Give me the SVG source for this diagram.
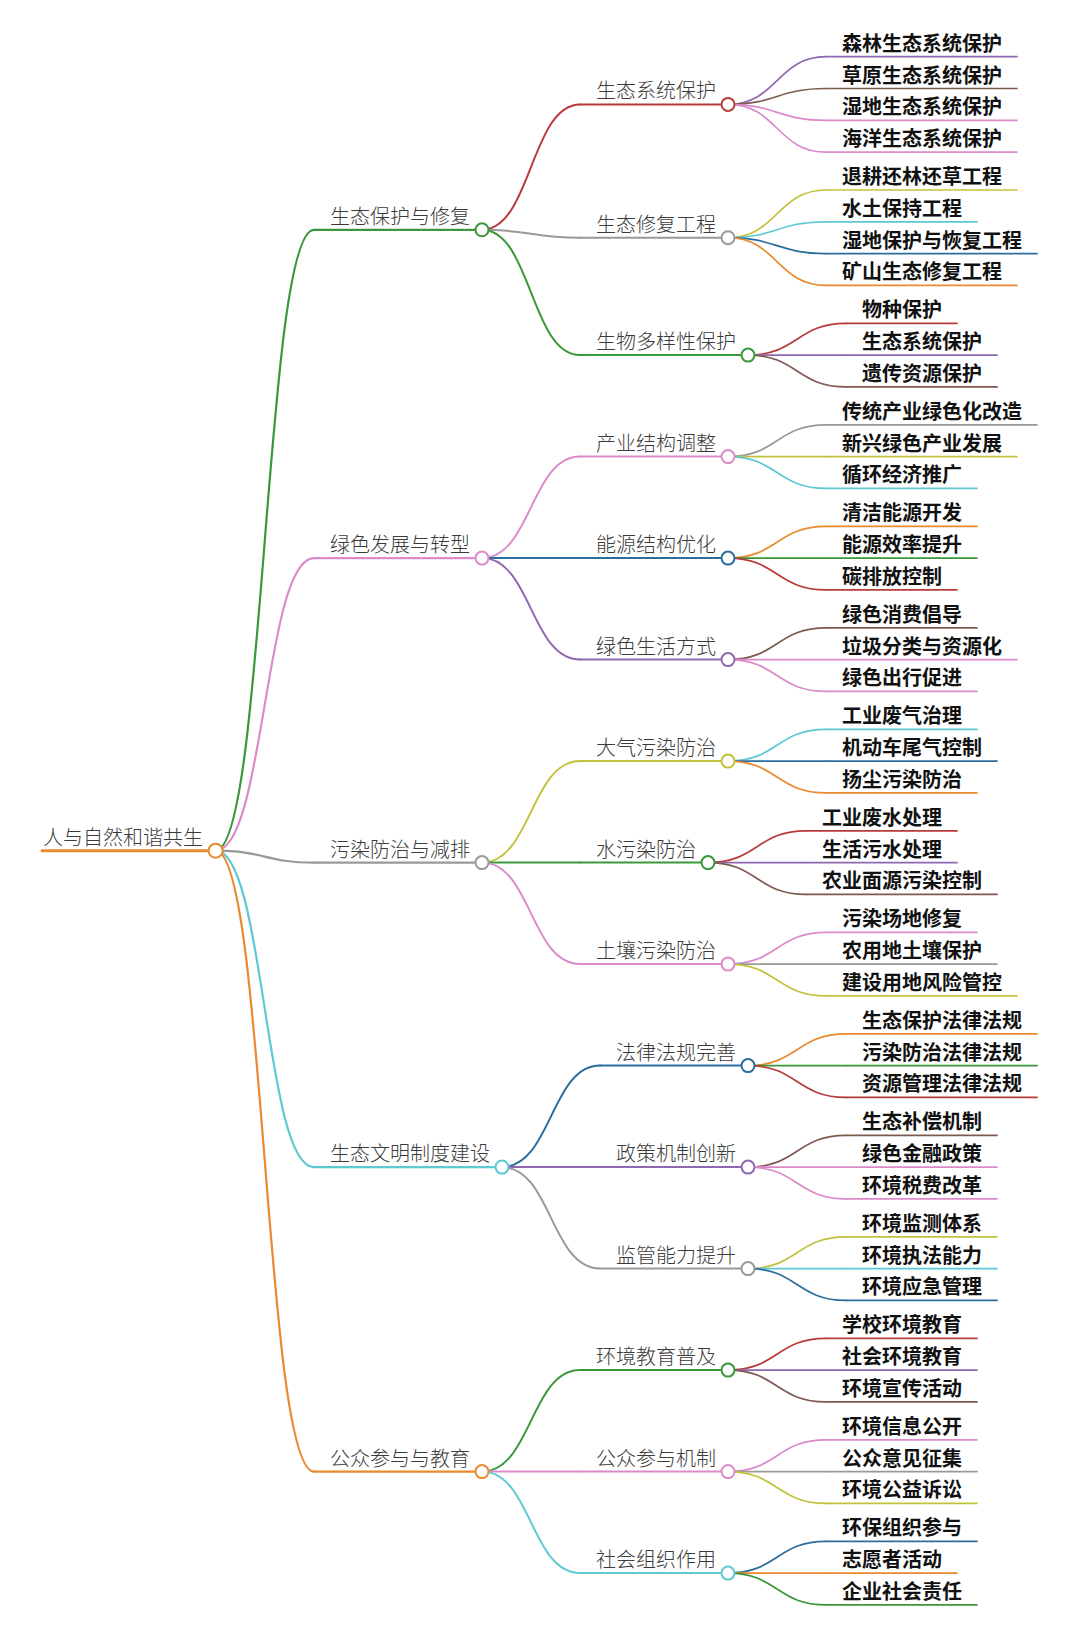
<svg xmlns="http://www.w3.org/2000/svg" width="1080" height="1650" viewBox="0 0 1080 1650">
<style>
text{font-family:"Noto Sans CJK SC","Noto Sans",sans-serif;font-size:20px}
.t{fill:#3a3a3a;font-weight:300}
.lf text{fill:#111;font-weight:700}
path{fill:none;stroke-linecap:round}
circle{fill:#fff;stroke-width:2}
.l0 path{stroke-width:3}
.l1 path,.k1{stroke-width:2.2}
.l2 path,.k2{stroke-width:2}
.lf path,.k3{stroke-width:1.7}
.b{stroke:#2b6e9e}.o{stroke:#e98a2e}.g{stroke:#3a973b}.r{stroke:#b83b3b}.p{stroke:#8f68b2}.br{stroke:#7d5a50}.pk{stroke:#db8bc9}.gy{stroke:#999}.ol{stroke:#c3c23c}.cy{stroke:#5ec8d3}
</style>
<rect width="1080" height="1650" fill="#fff"/>
<g id="connectors">
<path class="k1 g" d="M215.6 850.7C264.8 850.7 264.8 229.8 314 229.8"/>
<path class="k1 pk" d="M215.6 850.7C264.8 850.7 264.8 558.1 314 558.1"/>
<path class="k1 gy" d="M215.6 850.7C264.8 850.7 264.8 862.6 314 862.6"/>
<path class="k1 cy" d="M215.6 850.7C264.8 850.7 264.8 1167.1 314 1167.1"/>
<path class="k1 o" d="M215.6 850.7C264.8 850.7 264.8 1471.6 314 1471.6"/>
<path class="k2 r" d="M482 229.8C531 229.8 531 104.4 580 104.4"/>
<path class="k2 gy" d="M482 229.8C531 229.8 531 237.7 580 237.7"/>
<path class="k2 g" d="M482 229.8C531 229.8 531 355.1 580 355.1"/>
<path class="k2 pk" d="M482 558.1C531 558.1 531 456.6 580 456.6"/>
<path class="k2 b" d="M482 558.1C531 558.1 531 558.1 580 558.1"/>
<path class="k2 p" d="M482 558.1C531 558.1 531 659.6 580 659.6"/>
<path class="k2 ol" d="M482 862.6C531 862.6 531 761.1 580 761.1"/>
<path class="k2 g" d="M482 862.6C531 862.6 531 862.6 580 862.6"/>
<path class="k2 pk" d="M482 862.6C531 862.6 531 964.1 580 964.1"/>
<path class="k2 b" d="M502 1167.1C551 1167.1 551 1065.6 600 1065.6"/>
<path class="k2 p" d="M502 1167.1C551 1167.1 551 1167.1 600 1167.1"/>
<path class="k2 gy" d="M502 1167.1C551 1167.1 551 1268.6 600 1268.6"/>
<path class="k2 g" d="M482 1471.6C531 1471.6 531 1370.1 580 1370.1"/>
<path class="k2 pk" d="M482 1471.6C531 1471.6 531 1471.6 580 1471.6"/>
<path class="k2 cy" d="M482 1471.6C531 1471.6 531 1573.1 580 1573.1"/>
<path class="k3 p" d="M728 104.4C777 104.4 777 56.7 826 56.7"/>
<path class="k3 br" d="M728 104.4C777 104.4 777 88.5 826 88.5"/>
<path class="k3 pk" d="M728 104.4C777 104.4 777 120.3 826 120.3"/>
<path class="k3 pk" d="M728 104.4C777 104.4 777 152.1 826 152.1"/>
<path class="k3 ol" d="M728 237.7C777 237.7 777 190 826 190"/>
<path class="k3 cy" d="M728 237.7C777 237.7 777 221.8 826 221.8"/>
<path class="k3 b" d="M728 237.7C777 237.7 777 253.6 826 253.6"/>
<path class="k3 o" d="M728 237.7C777 237.7 777 285.4 826 285.4"/>
<path class="k3 r" d="M748 355.1C797 355.1 797 323.3 846 323.3"/>
<path class="k3 p" d="M748 355.1C797 355.1 797 355.1 846 355.1"/>
<path class="k3 br" d="M748 355.1C797 355.1 797 386.9 846 386.9"/>
<path class="k3 gy" d="M728 456.6C777 456.6 777 424.8 826 424.8"/>
<path class="k3 ol" d="M728 456.6C777 456.6 777 456.6 826 456.6"/>
<path class="k3 cy" d="M728 456.6C777 456.6 777 488.4 826 488.4"/>
<path class="k3 o" d="M728 558.1C777 558.1 777 526.3 826 526.3"/>
<path class="k3 g" d="M728 558.1C777 558.1 777 558.1 826 558.1"/>
<path class="k3 r" d="M728 558.1C777 558.1 777 589.9 826 589.9"/>
<path class="k3 br" d="M728 659.6C777 659.6 777 627.8 826 627.8"/>
<path class="k3 pk" d="M728 659.6C777 659.6 777 659.6 826 659.6"/>
<path class="k3 pk" d="M728 659.6C777 659.6 777 691.4 826 691.4"/>
<path class="k3 cy" d="M728 761.1C777 761.1 777 729.3 826 729.3"/>
<path class="k3 b" d="M728 761.1C777 761.1 777 761.1 826 761.1"/>
<path class="k3 o" d="M728 761.1C777 761.1 777 792.9 826 792.9"/>
<path class="k3 r" d="M708 862.6C757 862.6 757 830.8 806 830.8"/>
<path class="k3 p" d="M708 862.6C757 862.6 757 862.6 806 862.6"/>
<path class="k3 br" d="M708 862.6C757 862.6 757 894.4 806 894.4"/>
<path class="k3 pk" d="M728 964.1C777 964.1 777 932.3 826 932.3"/>
<path class="k3 gy" d="M728 964.1C777 964.1 777 964.1 826 964.1"/>
<path class="k3 ol" d="M728 964.1C777 964.1 777 995.9 826 995.9"/>
<path class="k3 o" d="M748 1065.6C797 1065.6 797 1033.8 846 1033.8"/>
<path class="k3 g" d="M748 1065.6C797 1065.6 797 1065.6 846 1065.6"/>
<path class="k3 r" d="M748 1065.6C797 1065.6 797 1097.4 846 1097.4"/>
<path class="k3 br" d="M748 1167.1C797 1167.1 797 1135.3 846 1135.3"/>
<path class="k3 pk" d="M748 1167.1C797 1167.1 797 1167.1 846 1167.1"/>
<path class="k3 pk" d="M748 1167.1C797 1167.1 797 1198.9 846 1198.9"/>
<path class="k3 ol" d="M748 1268.6C797 1268.6 797 1236.8 846 1236.8"/>
<path class="k3 cy" d="M748 1268.6C797 1268.6 797 1268.6 846 1268.6"/>
<path class="k3 b" d="M748 1268.6C797 1268.6 797 1300.4 846 1300.4"/>
<path class="k3 r" d="M728 1370.1C777 1370.1 777 1338.3 826 1338.3"/>
<path class="k3 p" d="M728 1370.1C777 1370.1 777 1370.1 826 1370.1"/>
<path class="k3 br" d="M728 1370.1C777 1370.1 777 1401.9 826 1401.9"/>
<path class="k3 pk" d="M728 1471.6C777 1471.6 777 1439.8 826 1439.8"/>
<path class="k3 gy" d="M728 1471.6C777 1471.6 777 1471.6 826 1471.6"/>
<path class="k3 ol" d="M728 1471.6C777 1471.6 777 1503.4 826 1503.4"/>
<path class="k3 b" d="M728 1573.1C777 1573.1 777 1541.3 826 1541.3"/>
<path class="k3 o" d="M728 1573.1C777 1573.1 777 1573.1 826 1573.1"/>
<path class="k3 g" d="M728 1573.1C777 1573.1 777 1604.9 826 1604.9"/>
</g>

<g id="root" class="l0"><path class="o" d="M42 850.7H215.6"/><circle class="o" cx="215.6" cy="850.7" r="7"/><text class="t" x="43" y="844.7">人与自然和谐共生</text></g>

<g id="n1" class="l1"><path class="g" d="M314 229.8H482"/><circle class="g" cx="482" cy="229.8" r="6.5"/><text class="t" x="330" y="223.8">生态保护与修复</text></g>
<g id="n2" class="l1"><path class="pk" d="M314 558.1H482"/><circle class="pk" cx="482" cy="558.1" r="6.5"/><text class="t" x="330" y="552.1">绿色发展与转型</text></g>
<g id="n3" class="l1"><path class="gy" d="M314 862.6H482"/><circle class="gy" cx="482" cy="862.6" r="6.5"/><text class="t" x="330" y="856.6">污染防治与减排</text></g>
<g id="n4" class="l1"><path class="cy" d="M314 1167.1H502"/><circle class="cy" cx="502" cy="1167.1" r="6.5"/><text class="t" x="330" y="1161.1">生态文明制度建设</text></g>
<g id="n5" class="l1"><path class="o" d="M314 1471.6H482"/><circle class="o" cx="482" cy="1471.6" r="6.5"/><text class="t" x="330" y="1465.6">公众参与与教育</text></g>

<g id="n1-1" class="l2"><path class="r" d="M580 104.4H728"/><circle class="r" cx="728" cy="104.4" r="6.5"/><text class="t" x="596" y="98.4">生态系统保护</text></g>
<g id="n1-2" class="l2"><path class="gy" d="M580 237.7H728"/><circle class="gy" cx="728" cy="237.7" r="6.5"/><text class="t" x="596" y="231.7">生态修复工程</text></g>
<g id="n1-3" class="l2"><path class="g" d="M580 355.1H748"/><circle class="g" cx="748" cy="355.1" r="6.5"/><text class="t" x="596" y="349.1">生物多样性保护</text></g>
<g id="n2-1" class="l2"><path class="pk" d="M580 456.6H728"/><circle class="pk" cx="728" cy="456.6" r="6.5"/><text class="t" x="596" y="450.6">产业结构调整</text></g>
<g id="n2-2" class="l2"><path class="b" d="M580 558.1H728"/><circle class="b" cx="728" cy="558.1" r="6.5"/><text class="t" x="596" y="552.1">能源结构优化</text></g>
<g id="n2-3" class="l2"><path class="p" d="M580 659.6H728"/><circle class="p" cx="728" cy="659.6" r="6.5"/><text class="t" x="596" y="653.6">绿色生活方式</text></g>
<g id="n3-1" class="l2"><path class="ol" d="M580 761.1H728"/><circle class="ol" cx="728" cy="761.1" r="6.5"/><text class="t" x="596" y="755.1">大气污染防治</text></g>
<g id="n3-2" class="l2"><path class="g" d="M580 862.6H708"/><circle class="g" cx="708" cy="862.6" r="6.5"/><text class="t" x="596" y="856.6">水污染防治</text></g>
<g id="n3-3" class="l2"><path class="pk" d="M580 964.1H728"/><circle class="pk" cx="728" cy="964.1" r="6.5"/><text class="t" x="596" y="958.1">土壤污染防治</text></g>
<g id="n4-1" class="l2"><path class="b" d="M600 1065.6H748"/><circle class="b" cx="748" cy="1065.6" r="6.5"/><text class="t" x="616" y="1059.6">法律法规完善</text></g>
<g id="n4-2" class="l2"><path class="p" d="M600 1167.1H748"/><circle class="p" cx="748" cy="1167.1" r="6.5"/><text class="t" x="616" y="1161.1">政策机制创新</text></g>
<g id="n4-3" class="l2"><path class="gy" d="M600 1268.6H748"/><circle class="gy" cx="748" cy="1268.6" r="6.5"/><text class="t" x="616" y="1262.6">监管能力提升</text></g>
<g id="n5-1" class="l2"><path class="g" d="M580 1370.1H728"/><circle class="g" cx="728" cy="1370.1" r="6.5"/><text class="t" x="596" y="1364.1">环境教育普及</text></g>
<g id="n5-2" class="l2"><path class="pk" d="M580 1471.6H728"/><circle class="pk" cx="728" cy="1471.6" r="6.5"/><text class="t" x="596" y="1465.6">公众参与机制</text></g>
<g id="n5-3" class="l2"><path class="cy" d="M580 1573.1H728"/><circle class="cy" cx="728" cy="1573.1" r="6.5"/><text class="t" x="596" y="1567.1">社会组织作用</text></g>

<g id="n1-1-1" class="lf"><path class="p" d="M826 56.7H1017"/><text x="842" y="50.7">森林生态系统保护</text></g>
<g id="n1-1-2" class="lf"><path class="br" d="M826 88.5H1017"/><text x="842" y="82.5">草原生态系统保护</text></g>
<g id="n1-1-3" class="lf"><path class="pk" d="M826 120.3H1017"/><text x="842" y="114.3">湿地生态系统保护</text></g>
<g id="n1-1-4" class="lf"><path class="pk" d="M826 152.1H1017"/><text x="842" y="146.1">海洋生态系统保护</text></g>
<g id="n1-2-1" class="lf"><path class="ol" d="M826 190H1017"/><text x="842" y="184">退耕还林还草工程</text></g>
<g id="n1-2-2" class="lf"><path class="cy" d="M826 221.8H977"/><text x="842" y="215.8">水土保持工程</text></g>
<g id="n1-2-3" class="lf"><path class="b" d="M826 253.6H1037"/><text x="842" y="247.6">湿地保护与恢复工程</text></g>
<g id="n1-2-4" class="lf"><path class="o" d="M826 285.4H1017"/><text x="842" y="279.4">矿山生态修复工程</text></g>
<g id="n1-3-1" class="lf"><path class="r" d="M846 323.3H957"/><text x="862" y="317.3">物种保护</text></g>
<g id="n1-3-2" class="lf"><path class="p" d="M846 355.1H997"/><text x="862" y="349.1">生态系统保护</text></g>
<g id="n1-3-3" class="lf"><path class="br" d="M846 386.9H997"/><text x="862" y="380.9">遗传资源保护</text></g>
<g id="n2-1-1" class="lf"><path class="gy" d="M826 424.8H1037"/><text x="842" y="418.8">传统产业绿色化改造</text></g>
<g id="n2-1-2" class="lf"><path class="ol" d="M826 456.6H1017"/><text x="842" y="450.6">新兴绿色产业发展</text></g>
<g id="n2-1-3" class="lf"><path class="cy" d="M826 488.4H977"/><text x="842" y="482.4">循环经济推广</text></g>
<g id="n2-2-1" class="lf"><path class="o" d="M826 526.3H977"/><text x="842" y="520.3">清洁能源开发</text></g>
<g id="n2-2-2" class="lf"><path class="g" d="M826 558.1H977"/><text x="842" y="552.1">能源效率提升</text></g>
<g id="n2-2-3" class="lf"><path class="r" d="M826 589.9H957"/><text x="842" y="583.9">碳排放控制</text></g>
<g id="n2-3-1" class="lf"><path class="br" d="M826 627.8H977"/><text x="842" y="621.8">绿色消费倡导</text></g>
<g id="n2-3-2" class="lf"><path class="pk" d="M826 659.6H1017"/><text x="842" y="653.6">垃圾分类与资源化</text></g>
<g id="n2-3-3" class="lf"><path class="pk" d="M826 691.4H977"/><text x="842" y="685.4">绿色出行促进</text></g>
<g id="n3-1-1" class="lf"><path class="cy" d="M826 729.3H977"/><text x="842" y="723.3">工业废气治理</text></g>
<g id="n3-1-2" class="lf"><path class="b" d="M826 761.1H997"/><text x="842" y="755.1">机动车尾气控制</text></g>
<g id="n3-1-3" class="lf"><path class="o" d="M826 792.9H977"/><text x="842" y="786.9">扬尘污染防治</text></g>
<g id="n3-2-1" class="lf"><path class="r" d="M806 830.8H957"/><text x="822" y="824.8">工业废水处理</text></g>
<g id="n3-2-2" class="lf"><path class="p" d="M806 862.6H957"/><text x="822" y="856.6">生活污水处理</text></g>
<g id="n3-2-3" class="lf"><path class="br" d="M806 894.4H997"/><text x="822" y="888.4">农业面源污染控制</text></g>
<g id="n3-3-1" class="lf"><path class="pk" d="M826 932.3H977"/><text x="842" y="926.3">污染场地修复</text></g>
<g id="n3-3-2" class="lf"><path class="gy" d="M826 964.1H997"/><text x="842" y="958.1">农用地土壤保护</text></g>
<g id="n3-3-3" class="lf"><path class="ol" d="M826 995.9H1017"/><text x="842" y="989.9">建设用地风险管控</text></g>
<g id="n4-1-1" class="lf"><path class="o" d="M846 1033.8H1037"/><text x="862" y="1027.8">生态保护法律法规</text></g>
<g id="n4-1-2" class="lf"><path class="g" d="M846 1065.6H1037"/><text x="862" y="1059.6">污染防治法律法规</text></g>
<g id="n4-1-3" class="lf"><path class="r" d="M846 1097.4H1037"/><text x="862" y="1091.4">资源管理法律法规</text></g>
<g id="n4-2-1" class="lf"><path class="br" d="M846 1135.3H997"/><text x="862" y="1129.3">生态补偿机制</text></g>
<g id="n4-2-2" class="lf"><path class="pk" d="M846 1167.1H997"/><text x="862" y="1161.1">绿色金融政策</text></g>
<g id="n4-2-3" class="lf"><path class="pk" d="M846 1198.9H997"/><text x="862" y="1192.9">环境税费改革</text></g>
<g id="n4-3-1" class="lf"><path class="ol" d="M846 1236.8H997"/><text x="862" y="1230.8">环境监测体系</text></g>
<g id="n4-3-2" class="lf"><path class="cy" d="M846 1268.6H997"/><text x="862" y="1262.6">环境执法能力</text></g>
<g id="n4-3-3" class="lf"><path class="b" d="M846 1300.4H997"/><text x="862" y="1294.4">环境应急管理</text></g>
<g id="n5-1-1" class="lf"><path class="r" d="M826 1338.3H977"/><text x="842" y="1332.3">学校环境教育</text></g>
<g id="n5-1-2" class="lf"><path class="p" d="M826 1370.1H977"/><text x="842" y="1364.1">社会环境教育</text></g>
<g id="n5-1-3" class="lf"><path class="br" d="M826 1401.9H977"/><text x="842" y="1395.9">环境宣传活动</text></g>
<g id="n5-2-1" class="lf"><path class="pk" d="M826 1439.8H977"/><text x="842" y="1433.8">环境信息公开</text></g>
<g id="n5-2-2" class="lf"><path class="gy" d="M826 1471.6H977"/><text x="842" y="1465.6">公众意见征集</text></g>
<g id="n5-2-3" class="lf"><path class="ol" d="M826 1503.4H977"/><text x="842" y="1497.4">环境公益诉讼</text></g>
<g id="n5-3-1" class="lf"><path class="b" d="M826 1541.3H977"/><text x="842" y="1535.3">环保组织参与</text></g>
<g id="n5-3-2" class="lf"><path class="o" d="M826 1573.1H957"/><text x="842" y="1567.1">志愿者活动</text></g>
<g id="n5-3-3" class="lf"><path class="g" d="M826 1604.9H977"/><text x="842" y="1598.9">企业社会责任</text></g>
</svg>
